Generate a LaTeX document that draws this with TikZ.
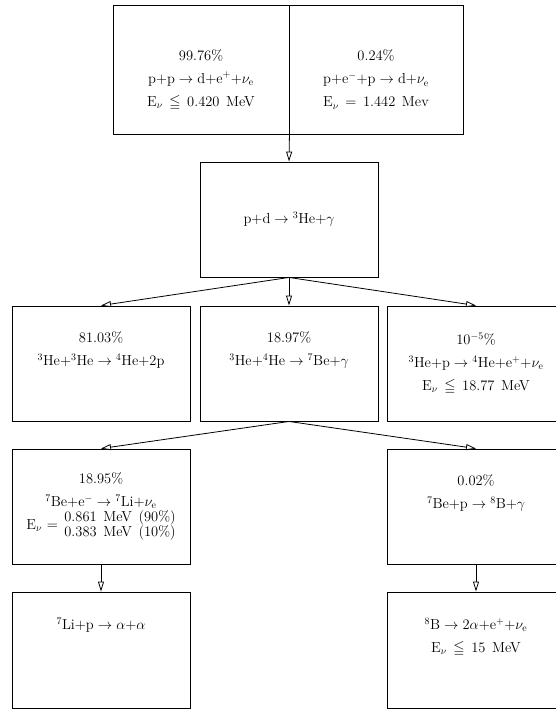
\documentclass[tikz,border=0pt]{standalone}
\usepackage{amssymb}
\usetikzlibrary{arrows.meta}

\newcommand{\wsp}{\hspace{0.45em}}
\newcommand{\Enu}{E$_\nu$}
\newcommand{\nue}{$\nu_{\mathrm{e}}$}
\newcommand{\iso}[2]{$^{#1}$#2}
\newcommand{\ra}{\;$\to$\;}

\tikzset{
  box/.style={draw, line width=0.9pt, inner sep=0pt, minimum width=178pt,
    minimum height=115pt, align=center, font=\fontsize{14.5}{23}\selectfont},
  flow/.style={line width=0.8pt, -{Triangle[open, length=10pt, width=6pt]}}
}

\begin{document}
\begin{tikzpicture}[x=1pt, y=-1pt]
\useasboundingbox (0,0) rectangle (555,709);

% pp chain start
\node[box, minimum width=176pt, minimum height=129pt] (pp) at (201,69.5)
  {\strut\\[-8pt] 99.76\%\\ p+p\ra d+e$^+$+\nue\\ \Enu\wsp$\leqq$\wsp 0.420\wsp MeV};
\node[box, minimum width=174pt, minimum height=129pt] (pep) at (376,69.5)
  {\strut\\[-8pt] 0.24\%\\ p+e$^-$+p\ra d+\nue\\ \Enu\wsp=\wsp 1.442\wsp Mev};
\node[box] (pd) at (289,219.5) {p+d\ra\iso{3}{He}+$\gamma$};

% branches
\node[box] (hehe) at (101,363.5)
  {81.03\%\\ \iso{3}{He}+\iso{3}{He}\ra\iso{4}{He}+2p\\ \strut};
\node[box] (hehe4) at (289,363.5)
  {18.97\%\\ \iso{3}{He}+\iso{4}{He}\ra\iso{7}{Be}+$\gamma$\\ \strut};
\node[box] (hep) at (476,363.5)
  {10$^{-5}$\%\\ \iso{3}{He}+p\ra\iso{4}{He}+e$^+$+\nue\\
   \Enu\wsp$\leqq$\wsp 18.77\wsp MeV};

\node[box] (be7e) at (101,506.5)
  {18.95\%\\ \iso{7}{Be}+e$^-$\ra\iso{7}{Li}+\nue\\
   \Enu\ =\wsp\renewcommand{\arraystretch}{0.6}%
   \begin{tabular}[c]{@{}l@{}}0.861\wsp MeV\wsp (90\%)\\
   0.383\wsp MeV\wsp (10\%)\end{tabular}};
\node[box] (be7p) at (476,506.5)
  {0.02\%\\ \iso{7}{Be}+p\ra\iso{8}{B}+$\gamma$\\ \strut};

\node[box, minimum height=116pt] (li7p) at (101,650)
  {\iso{7}{Li}+p\ra$\alpha$+$\alpha$\\ \strut\\ \strut};
\node[box, minimum height=116pt] (b8) at (476,650)
  {\iso{8}{B}\ra 2$\alpha$+e$^+$+\nue\\ \Enu\wsp$\leqq$\wsp 15\wsp MeV\\ \strut};

% arrows
\draw[flow] (pp.south east) -- (pd.north);
\draw[flow] (pd.south) -- (hehe.north);
\draw[flow] (pd.south) -- (hehe4.north);
\draw[flow] (pd.south) -- (hep.north);
\draw[flow] (hehe4.south) -- (be7e.north);
\draw[flow] (hehe4.south) -- (be7p.north);
\draw[flow] (be7e.south) -- (li7p.north);
\draw[flow] (be7p.south) -- (b8.north);
\end{tikzpicture}
\end{document}
